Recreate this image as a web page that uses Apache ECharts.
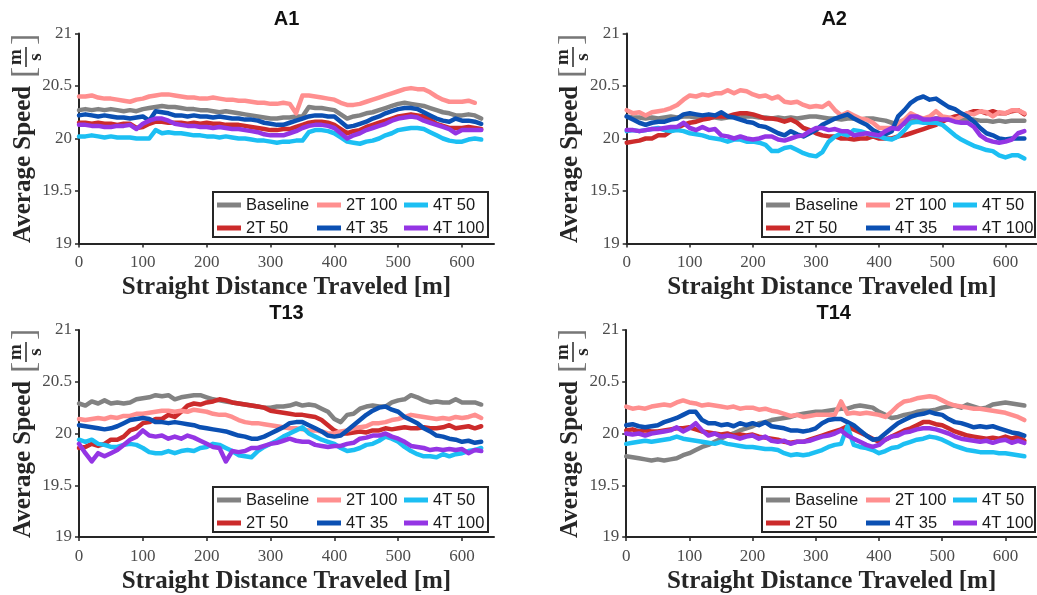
<!DOCTYPE html>
<html>
<head>
<meta charset="utf-8">
<script src="https://cdn.jsdelivr.net/npm/echarts@6/dist/echarts.min.js"></script>
<style>
  html, body { margin: 0; padding: 0; background: #ffffff; }
  #chart { width: 1037px; height: 595px; }
</style>
</head>
<body>
<div id="chart"></div>
<script>
// Distance along the straight, metres (one sample every 10 m)
const distance = [
  0, 10, 20, 30, 40, 50, 60, 70,
  80, 90, 100, 110, 120, 130, 140, 150,
  160, 170, 180, 190, 200, 210, 220, 230,
  240, 250, 260, 270, 280, 290, 300, 310,
  320, 330, 340, 350, 360, 370, 380, 390,
  400, 410, 420, 430, 440, 450, 460, 470,
  480, 490, 500, 510, 520, 530, 540, 550,
  560, 570, 580, 590, 600, 610, 620, 630
];

const seriesNames = ['Baseline', '2T 50', '2T 100', '4T 35', '4T 50', '4T 100'];
const panelTitles = ['A1', 'A2', 'T13', 'T14'];
const xTickValues = [0, 100, 200, 300, 400, 500, 600];

// ---- A1 average speed [m/s] ----
const a1Baseline = [
  20.27, 20.28, 20.27, 20.28, 20.27, 20.28, 20.27, 20.26,
  20.27, 20.26, 20.28, 20.29, 20.30, 20.31, 20.30, 20.30,
  20.29, 20.28, 20.28, 20.27, 20.27, 20.26, 20.25, 20.26,
  20.25, 20.24, 20.23, 20.22, 20.21, 20.20, 20.19, 20.19,
  20.20, 20.20, 20.21, 20.21, 20.30, 20.29, 20.29, 20.28,
  20.27, 20.23, 20.19, 20.21, 20.22, 20.24, 20.25, 20.27,
  20.29, 20.31, 20.33, 20.34, 20.33, 20.32, 20.31, 20.29,
  20.27, 20.25, 20.24, 20.22, 20.22, 20.23, 20.22, 20.19
];
const a1T2_50 = [
  20.15, 20.15, 20.14, 20.15, 20.14, 20.14, 20.13, 20.14,
  20.14, 20.10, 20.11, 20.14, 20.16, 20.16, 20.15, 20.15,
  20.15, 20.14, 20.15, 20.14, 20.15, 20.14, 20.14, 20.13,
  20.13, 20.13, 20.12, 20.11, 20.10, 20.09, 20.08, 20.08,
  20.09, 20.09, 20.11, 20.13, 20.15, 20.16, 20.16, 20.15,
  20.13, 20.09, 20.05, 20.07, 20.08, 20.11, 20.13, 20.15,
  20.17, 20.19, 20.21, 20.22, 20.23, 20.22, 20.21, 20.18,
  20.14, 20.12, 20.10, 20.10, 20.10, 20.11, 20.10, 20.09
];
const a1T2_100 = [
  20.40, 20.40, 20.41, 20.39, 20.38, 20.38, 20.37, 20.36,
  20.35, 20.37, 20.38, 20.40, 20.41, 20.42, 20.42, 20.41,
  20.40, 20.39, 20.39, 20.38, 20.38, 20.39, 20.38, 20.37,
  20.37, 20.36, 20.36, 20.35, 20.34, 20.34, 20.33, 20.33,
  20.34, 20.33, 20.24, 20.41, 20.41, 20.40, 20.39, 20.38,
  20.37, 20.34, 20.32, 20.32, 20.33, 20.35, 20.37, 20.39,
  20.41, 20.43, 20.45, 20.47, 20.48, 20.47, 20.47, 20.44,
  20.40, 20.37, 20.35, 20.35, 20.35, 20.36, 20.34
];
const a1T4_35 = [
  20.22, 20.23, 20.22, 20.21, 20.22, 20.21, 20.20, 20.20,
  20.19, 20.20, 20.21, 20.17, 20.26, 20.25, 20.24, 20.22,
  20.22, 20.21, 20.22, 20.21, 20.21, 20.20, 20.21, 20.20,
  20.19, 20.19, 20.18, 20.18, 20.17, 20.15, 20.14, 20.13,
  20.13, 20.15, 20.17, 20.19, 20.21, 20.22, 20.22, 20.21,
  20.21, 20.16, 20.11, 20.12, 20.14, 20.16, 20.19, 20.21,
  20.24, 20.26, 20.28, 20.29, 20.29, 20.28, 20.25, 20.22,
  20.19, 20.17, 20.16, 20.19, 20.17, 20.17, 20.16, 20.14
];
const a1T4_50 = [
  20.02, 20.02, 20.03, 20.02, 20.01, 20.02, 20.01, 20.01,
  20.01, 20.00, 20.00, 20.00, 20.08, 20.05, 20.06, 20.05,
  20.05, 20.04, 20.03, 20.03, 20.02, 20.02, 20.01, 20.02,
  20.01, 20.00, 20.00, 19.99, 19.98, 19.98, 19.97, 19.96,
  19.97, 19.97, 19.98, 19.98, 20.06, 20.08, 20.08, 20.07,
  20.05, 20.01, 19.97, 19.96, 19.95, 19.97, 19.98, 20.00,
  20.03, 20.05, 20.08, 20.09, 20.10, 20.10, 20.09, 20.06,
  20.03, 20.00, 19.98, 19.97, 19.97, 19.99, 20.00, 19.99
];
const a1T4_100 = [
  20.13, 20.13, 20.12, 20.12, 20.11, 20.11, 20.12, 20.12,
  20.13, 20.09, 20.14, 20.17, 20.19, 20.19, 20.17, 20.14,
  20.13, 20.12, 20.12, 20.11, 20.11, 20.10, 20.11, 20.10,
  20.09, 20.09, 20.08, 20.07, 20.06, 20.04, 20.03, 20.03,
  20.03, 20.05, 20.07, 20.10, 20.12, 20.13, 20.13, 20.12,
  20.10, 20.05, 20.00, 20.03, 20.05, 20.08, 20.10, 20.12,
  20.14, 20.17, 20.19, 20.20, 20.21, 20.20, 20.17, 20.15,
  20.13, 20.11, 20.09, 20.05, 20.08, 20.08, 20.08, 20.08
];

// ---- A2 average speed [m/s] ----
const a2Baseline = [
  20.21, 20.20, 20.20, 20.19, 20.20, 20.19, 20.20, 20.21,
  20.20, 20.21, 20.21, 20.20, 20.21, 20.20, 20.20, 20.19,
  20.20, 20.21, 20.20, 20.21, 20.21, 20.20, 20.20, 20.19,
  20.20, 20.19, 20.20, 20.19, 20.20, 20.21, 20.21, 20.20,
  20.19, 20.19, 20.18, 20.19, 20.19, 20.18, 20.19, 20.19,
  20.18, 20.17, 20.15, 20.13, 20.14, 20.16, 20.18, 20.19,
  20.18, 20.19, 20.19, 20.18, 20.18, 20.18, 20.18, 20.18,
  20.17, 20.17, 20.16, 20.17, 20.16, 20.17, 20.17, 20.17
];
const a2T2_50 = [
  19.96, 19.97, 19.98, 20.00, 20.00, 20.03, 20.03, 20.07,
  20.10, 20.13, 20.15, 20.16, 20.18, 20.19, 20.21, 20.21,
  20.21, 20.23, 20.24, 20.24, 20.23, 20.21, 20.19, 20.19,
  20.18, 20.16, 20.18, 20.15, 20.10, 20.08, 20.05, 20.03,
  20.02, 20.02, 20.00, 20.00, 19.99, 20.00, 20.00, 20.02,
  20.00, 20.00, 20.00, 20.02, 20.03, 20.05, 20.07, 20.09,
  20.11, 20.13, 20.16, 20.19, 20.21, 20.22, 20.24, 20.26,
  20.26, 20.24, 20.26, 20.24, 20.24, 20.26, 20.27, 20.23
];
const a2T2_100 = [
  20.27, 20.24, 20.25, 20.22, 20.25, 20.26, 20.27, 20.29,
  20.32, 20.37, 20.41, 20.40, 20.42, 20.41, 20.43, 20.43,
  20.46, 20.43, 20.46, 20.45, 20.42, 20.40, 20.41, 20.38,
  20.40, 20.35, 20.34, 20.35, 20.32, 20.30, 20.31, 20.30,
  20.34, 20.27, 20.22, 20.25, 20.22, 20.19, 20.18, 20.15,
  20.10, 20.10, 20.10, 20.15, 20.18, 20.24, 20.21, 20.19,
  20.21, 20.26, 20.21, 20.20, 20.18, 20.21, 20.24, 20.23,
  20.26, 20.25, 20.21, 20.25, 20.24, 20.27, 20.27, 20.24
];
const a2T4_35 = [
  20.21, 20.18, 20.15, 20.13, 20.15, 20.16, 20.16, 20.18,
  20.19, 20.23, 20.24, 20.23, 20.22, 20.23, 20.22, 20.25,
  20.21, 20.20, 20.18, 20.16, 20.15, 20.12, 20.11, 20.08,
  20.05, 20.03, 20.07, 20.04, 20.02, 20.05, 20.08, 20.13,
  20.16, 20.19, 20.21, 20.23, 20.19, 20.16, 20.13, 20.08,
  20.05, 20.04, 20.07, 20.21, 20.27, 20.34, 20.38, 20.40,
  20.37, 20.38, 20.34, 20.30, 20.28, 20.24, 20.21, 20.16,
  20.10, 20.05, 20.03, 20.00, 19.99, 20.00, 20.00, 20.00
];
const a2T4_50 = [
  20.07, 20.08, 20.07, 20.08, 20.09, 20.10, 20.08, 20.07,
  20.08, 20.07, 20.05, 20.04, 20.03, 20.01, 20.00, 19.99,
  19.97, 19.99, 19.99, 19.97, 19.97, 19.96, 19.94, 19.88,
  19.88, 19.91, 19.92, 19.89, 19.86, 19.84, 19.83, 19.87,
  19.97, 20.02, 20.05, 20.03, 20.08, 20.07, 20.05, 20.03,
  20.02, 20.00, 19.99, 20.02, 20.08, 20.15, 20.16, 20.15,
  20.15, 20.15, 20.13, 20.08, 20.03, 19.99, 19.96, 19.93,
  19.91, 19.89, 19.88, 19.84, 19.82, 19.84, 19.84, 19.81
];
const a2T4_100 = [
  20.08, 20.08, 20.07, 20.08, 20.09, 20.09, 20.10, 20.11,
  20.11, 20.15, 20.10, 20.08, 20.11, 20.08, 20.09, 20.03,
  20.02, 20.00, 20.02, 20.00, 19.99, 20.00, 20.02, 20.02,
  19.99, 19.98, 20.00, 20.02, 20.03, 20.07, 20.10, 20.10,
  20.08, 20.09, 20.07, 20.07, 20.03, 20.04, 20.05, 20.04,
  20.03, 20.07, 20.10, 20.09, 20.15, 20.21, 20.21, 20.18,
  20.18, 20.19, 20.18, 20.18, 20.16, 20.15, 20.15, 20.11,
  20.03, 19.99, 19.97, 19.96, 19.97, 19.99, 20.05, 20.07
];

// ---- T13 average speed [m/s] ----
const t13Baseline = [
  20.29, 20.27, 20.31, 20.29, 20.32, 20.29, 20.30, 20.29,
  20.30, 20.33, 20.34, 20.35, 20.37, 20.36, 20.37, 20.33,
  20.35, 20.36, 20.37, 20.37, 20.35, 20.33, 20.32, 20.31,
  20.30, 20.29, 20.28, 20.27, 20.26, 20.25, 20.25, 20.26,
  20.26, 20.27, 20.29, 20.27, 20.28, 20.27, 20.24, 20.21,
  20.14, 20.11, 20.18, 20.19, 20.24, 20.26, 20.27, 20.26,
  20.26, 20.30, 20.32, 20.33, 20.37, 20.35, 20.32, 20.30,
  20.31, 20.30, 20.30, 20.33, 20.30, 20.30, 20.30, 20.28
];
const t13T2_50 = [
  19.86, 19.87, 19.90, 19.88, 19.90, 19.94, 19.94, 19.97,
  20.03, 20.05, 20.10, 20.11, 20.14, 20.14, 20.18, 20.16,
  20.21, 20.27, 20.29, 20.28, 20.30, 20.31, 20.33, 20.32,
  20.30, 20.29, 20.28, 20.27, 20.26, 20.25, 20.22, 20.21,
  20.20, 20.19, 20.18, 20.18, 20.17, 20.16, 20.13, 20.08,
  20.03, 20.00, 20.00, 20.01, 20.02, 20.01, 20.03, 20.03,
  20.05, 20.04, 20.05, 20.06, 20.05, 20.05, 20.06, 20.05,
  20.05, 20.06, 20.08, 20.05, 20.06, 20.07, 20.05, 20.07
];
const t13T2_100 = [
  20.14, 20.13, 20.14, 20.15, 20.14, 20.16, 20.15, 20.17,
  20.17, 20.19, 20.19, 20.20, 20.21, 20.22, 20.22, 20.21,
  20.22, 20.21, 20.23, 20.22, 20.21, 20.19, 20.18, 20.18,
  20.16, 20.13, 20.11, 20.10, 20.10, 20.09, 20.08, 20.07,
  20.06, 20.05, 20.05, 20.04, 20.03, 20.03, 20.02, 20.00,
  20.00, 20.02, 20.03, 20.05, 20.06, 20.07, 20.10, 20.10,
  20.11, 20.13, 20.14, 20.16, 20.18, 20.17, 20.16, 20.15,
  20.14, 20.15, 20.14, 20.16, 20.15, 20.16, 20.18, 20.15
];
const t13T4_35 = [
  20.08, 20.07, 20.06, 20.05, 20.04, 20.05, 20.07, 20.10,
  20.13, 20.14, 20.15, 20.14, 20.11, 20.11, 20.10, 20.11,
  20.10, 20.09, 20.08, 20.06, 20.05, 20.04, 20.03, 20.02,
  20.00, 19.98, 19.97, 19.95, 19.95, 19.97, 20.00, 20.03,
  20.06, 20.10, 20.11, 20.11, 20.08, 20.05, 20.02, 19.98,
  19.97, 19.98, 20.03, 20.08, 20.13, 20.18, 20.22, 20.25,
  20.26, 20.23, 20.21, 20.16, 20.13, 20.10, 20.05, 20.02,
  19.98, 19.97, 19.95, 19.94, 19.92, 19.93, 19.91, 19.92
];
const t13T4_50 = [
  19.94, 19.92, 19.94, 19.90, 19.89, 19.87, 19.87, 19.89,
  19.90, 19.89, 19.86, 19.82, 19.81, 19.81, 19.83, 19.81,
  19.83, 19.84, 19.83, 19.86, 19.87, 19.90, 19.89, 19.86,
  19.83, 19.79, 19.78, 19.77, 19.83, 19.87, 19.90, 19.93,
  19.97, 20.00, 20.03, 20.06, 20.00, 19.97, 19.94, 19.92,
  19.90, 19.86, 19.83, 19.84, 19.86, 19.89, 19.90, 19.93,
  19.97, 19.95, 19.92, 19.87, 19.83, 19.80, 19.78, 19.78,
  19.77, 19.80, 19.78, 19.80, 19.81, 19.83, 19.84, 19.86
];
const t13T4_100 = [
  19.90, 19.81, 19.73, 19.81, 19.78, 19.81, 19.84, 19.89,
  19.94, 19.97, 20.03, 19.98, 19.97, 19.98, 19.95, 19.97,
  19.95, 19.98, 19.96, 19.93, 19.90, 19.87, 19.86, 19.73,
  19.83, 19.82, 19.83, 19.86, 19.86, 19.88, 19.90, 19.91,
  19.93, 19.95, 19.93, 19.92, 19.92, 19.89, 19.88, 19.87,
  19.88, 19.88, 19.90, 19.91, 19.95, 19.96, 19.98, 19.98,
  20.00, 19.97, 19.95, 19.92, 19.88, 19.87, 19.86, 19.84,
  19.85, 19.84, 19.85, 19.84, 19.85, 19.81, 19.84, 19.83
];

// ---- T14 average speed [m/s] ----
const t14Baseline = [
  19.78, 19.77, 19.76, 19.75, 19.74, 19.75, 19.74, 19.75,
  19.76, 19.79, 19.81, 19.84, 19.87, 19.89, 19.92, 19.95,
  19.98, 20.00, 20.03, 20.05, 20.07, 20.10, 20.11, 20.13,
  20.14, 20.15, 20.16, 20.18, 20.19, 20.20, 20.21, 20.21,
  20.22, 20.23, 20.24, 20.24, 20.26, 20.27, 20.26, 20.25,
  20.21, 20.18, 20.15, 20.16, 20.18, 20.19, 20.21, 20.22,
  20.22, 20.23, 20.25, 20.26, 20.27, 20.25, 20.28, 20.26,
  20.24, 20.25, 20.28, 20.29, 20.30, 20.29, 20.28, 20.27
];
const t14T2_50 = [
  20.03, 20.04, 20.02, 20.03, 20.02, 20.02, 20.03, 20.04,
  20.05, 20.05, 20.06, 20.04, 20.02, 20.01, 20.00, 19.99,
  20.00, 19.98, 19.99, 19.98, 19.99, 19.97, 19.96, 19.95,
  19.94, 19.92, 19.91, 19.92, 19.92, 19.94, 19.96, 19.98,
  20.00, 20.02, 20.04, 20.07, 20.04, 20.01, 19.98, 19.95,
  19.92, 19.94, 19.97, 20.00, 20.03, 20.05, 20.08, 20.11,
  20.11, 20.09, 20.08, 20.05, 20.02, 20.00, 19.98, 19.97,
  19.96, 19.95, 19.96, 19.95, 19.97, 19.95, 19.97, 19.93
];
const t14T2_100 = [
  20.26, 20.24, 20.25, 20.24, 20.26, 20.27, 20.28, 20.27,
  20.30, 20.32, 20.30, 20.29, 20.27, 20.28, 20.27, 20.26,
  20.25, 20.26, 20.24, 20.25, 20.25, 20.23, 20.24, 20.22,
  20.21, 20.19, 20.17, 20.18, 20.16, 20.17, 20.18, 20.18,
  20.18, 20.18, 20.31, 20.19, 20.20, 20.19, 20.20, 20.19,
  20.18, 20.16, 20.21, 20.27, 20.31, 20.32, 20.34, 20.35,
  20.36, 20.35, 20.32, 20.29, 20.27, 20.26, 20.25, 20.24,
  20.24, 20.23, 20.22, 20.21, 20.20, 20.18, 20.16, 20.13
];
const t14T4_35 = [
  20.08, 20.09, 20.07, 20.06, 20.07, 20.08, 20.11, 20.13,
  20.15, 20.18, 20.21, 20.21, 20.13, 20.10, 20.10, 20.08,
  20.09, 20.07, 20.10, 20.08, 20.10, 20.08, 20.11, 20.07,
  20.06, 20.05, 20.03, 20.03, 20.02, 20.03, 20.05, 20.10,
  20.13, 20.14, 20.14, 20.11, 20.08, 20.03, 19.98, 19.94,
  19.95, 20.00, 20.05, 20.10, 20.13, 20.16, 20.18, 20.19,
  20.21, 20.19, 20.18, 20.14, 20.11, 20.10, 20.08, 20.06,
  20.07, 20.06, 20.07, 20.05, 20.03, 20.01, 20.00, 19.98
];
const t14T4_50 = [
  19.90, 19.91, 19.92, 19.93, 19.92, 19.93, 19.94, 19.95,
  19.97, 19.95, 19.94, 19.93, 19.92, 19.91, 19.90, 19.92,
  19.90, 19.89, 19.88, 19.87, 19.87, 19.86, 19.85, 19.85,
  19.84, 19.81, 19.79, 19.80, 19.79, 19.80, 19.82, 19.84,
  19.87, 19.89, 19.90, 20.07, 19.89, 19.87, 19.86, 19.84,
  19.81, 19.83, 19.86, 19.87, 19.90, 19.92, 19.94, 19.95,
  19.97, 19.96, 19.94, 19.91, 19.88, 19.86, 19.84, 19.83,
  19.82, 19.82, 19.82, 19.81, 19.81, 19.80, 19.79, 19.78
];
const t14T4_100 = [
  20.00, 19.99, 20.00, 19.98, 20.00, 20.01, 20.02, 20.03,
  20.06, 20.02, 20.05, 20.10, 20.03, 19.98, 20.00, 19.97,
  19.98, 19.97, 19.95, 19.97, 19.98, 19.95, 19.97, 19.93,
  19.92, 19.93, 19.90, 19.92, 19.92, 19.93, 19.95, 19.97,
  19.98, 20.00, 20.03, 19.98, 19.95, 19.92, 19.89, 19.87,
  19.89, 19.94, 19.97, 19.98, 20.01, 20.02, 20.04, 20.05,
  20.05, 20.04, 20.02, 20.00, 19.97, 19.95, 19.94, 19.93,
  19.92, 19.93, 19.91, 19.93, 19.94, 19.91, 19.93, 19.91
];

// Series per panel, in the order of seriesNames
const panelSeries = [
  [a1Baseline, a1T2_50, a1T2_100, a1T4_35, a1T4_50, a1T4_100],
  [a2Baseline, a2T2_50, a2T2_100, a2T4_35, a2T4_50, a2T4_100],
  [t13Baseline, t13T2_50, t13T2_100, t13T4_35, t13T4_50, t13T4_100],
  [t14Baseline, t14T2_50, t14T2_100, t14T4_35, t14T4_50, t14T4_100]
];

// ---- styling / layout ----
const lineColors = ['#828282', '#cc2b2b', '#ff8f8f', '#0b50b3', '#1cbff3', '#9435e4'];
const axisColor = '#262626';
const tickLabelColor = '#4d4d4d';
const serif = '"Liberation Serif", "Times New Roman", serif';
const sans = '"Liberation Sans", Arial, sans-serif';

const layouts = [
  { left: 79,    top: 33.5, height: 210, box: [213, 192, 275, 45], nameX: 24,  nameY: 243, titleY: 19 },
  { left: 626.7, top: 33.5, height: 210, box: [762, 192, 273, 45], nameX: 571, nameY: 243, titleY: 19 },
  { left: 79,    top: 330,  height: 209, box: [213, 487, 275, 45], nameX: 24,  nameY: 538, titleY: 313 },
  { left: 626.2, top: 330,  height: 209, box: [762, 487, 273, 45], nameX: 571, nameY: 538, titleY: 313 }
];
const plotWidth = 415;
const legendColumns = [4, 104, 191];

const grids = [], xAxes = [], yAxes = [], series = [], legends = [], graphics = [];

layouts.forEach((L, p) => {
  grids.push({ left: L.left, top: L.top, width: plotWidth, height: L.height, containLabel: false });

  xAxes.push({
    type: 'value', gridIndex: p, min: 0, max: 650, interval: 100,
    name: 'Straight Distance Traveled [m]', nameLocation: 'middle', nameGap: 32,
    nameTextStyle: { fontFamily: serif, fontWeight: 'bold', fontSize: 25, color: axisColor },
    axisLine: { show: true, onZero: false, lineStyle: { color: axisColor, width: 2 } },
    axisTick: { show: true, inside: false, length: 4, customValues: xTickValues,
      lineStyle: { color: axisColor, width: 1.5 } },
    axisLabel: { customValues: xTickValues, margin: 11,
      fontFamily: serif, fontSize: 17, color: tickLabelColor },
    splitLine: { show: false }
  });

  yAxes.push({
    type: 'value', gridIndex: p, min: 19, max: 21, interval: 0.5,
    axisLine: { show: true, onZero: false, lineStyle: { color: axisColor, width: 2 } },
    axisTick: { show: true, inside: false, length: 4, lineStyle: { color: axisColor, width: 1.5 } },
    axisLabel: { margin: 7, fontFamily: serif, fontSize: 17, color: tickLabelColor },
    splitLine: { show: false }
  });

  panelSeries[p].forEach((values, s) => {
    series.push({
      name: seriesNames[s], type: 'line', xAxisIndex: p, yAxisIndex: p,
      data: values.map((v, i) => [distance[i], v]),
      showSymbol: false, symbol: 'none', smooth: false,
      color: lineColors[s],
      lineStyle: { width: 4.5, color: lineColors[s], cap: 'round', join: 'round' },
      emphasis: { disabled: true }, z: 2
    });
  });

  // legend frame
  const [bx, by, bw, bh] = L.box;
  graphics.push({
    type: 'rect', z: 3, silent: true,
    shape: { x: bx, y: by, width: bw, height: bh },
    style: { fill: '#ffffff', stroke: axisColor, lineWidth: 2 }
  });

  // legend: three columns of two entries
  legendColumns.forEach((dx, c) => {
    legends.push({
      orient: 'vertical', left: bx + dx, top: by + 4.5, padding: 0,
      data: [seriesNames[2 * c], seriesNames[2 * c + 1]],
      icon: 'rect', itemWidth: 24, itemHeight: 5, itemGap: 6,
      selectedMode: false, z: 4,
      textStyle: { fontFamily: sans, fontSize: 16.5, color: '#1a1a1a', lineHeight: 16 }
    });
  });

  // panel title
  graphics.push({
    type: 'text', x: L.left + plotWidth / 2, y: L.titleY, z: 5,
    style: { text: panelTitles[p], font: 'bold 20px ' + sans, fill: '#111111',
      align: 'center', verticalAlign: 'middle', textAlign: 'center', textVerticalAlign: 'middle' }
  });

  // y-axis title with the m/s fraction, drawn rotated
  const nameFont = 'bold 25px ' + serif;
  const fracFont = 'bold 19px ' + serif;
  graphics.push({
    type: 'group', x: L.nameX, y: L.nameY, rotation: Math.PI / 2, z: 5,
    children: [
      { type: 'text', x: 0, y: 0,
        style: { text: 'Average Speed', font: nameFont, fill: axisColor,
          align: 'left', verticalAlign: 'middle', textAlign: 'left', textVerticalAlign: 'middle' } },
      { type: 'text', x: 165, y: 1,
        style: { text: '[', font: '34px ' + serif, fill: '#777777',
          align: 'left', verticalAlign: 'middle', textAlign: 'left', textVerticalAlign: 'middle' } },
      { type: 'text', x: 186, y: -8,
        style: { text: 'm', font: fracFont, fill: axisColor,
          align: 'center', verticalAlign: 'middle', textAlign: 'center', textVerticalAlign: 'middle' } },
      { type: 'line', shape: { x1: 176, y1: 2, x2: 196, y2: 2 },
        style: { stroke: axisColor, lineWidth: 1.5 } },
      { type: 'text', x: 186, y: 12,
        style: { text: 's', font: fracFont, fill: axisColor,
          align: 'center', verticalAlign: 'middle', textAlign: 'center', textVerticalAlign: 'middle' } },
      { type: 'text', x: 198, y: 1,
        style: { text: ']', font: '34px ' + serif, fill: '#777777',
          align: 'left', verticalAlign: 'middle', textAlign: 'left', textVerticalAlign: 'middle' } }
    ]
  });
});

const chart = echarts.init(document.getElementById('chart'), null, { renderer: 'canvas' });
chart.setOption({
  animation: false,
  backgroundColor: '#ffffff',
  grid: grids,
  xAxis: xAxes,
  yAxis: yAxes,
  legend: legends,
  series: series,
  graphic: graphics
});
</script>
</body>
</html>
